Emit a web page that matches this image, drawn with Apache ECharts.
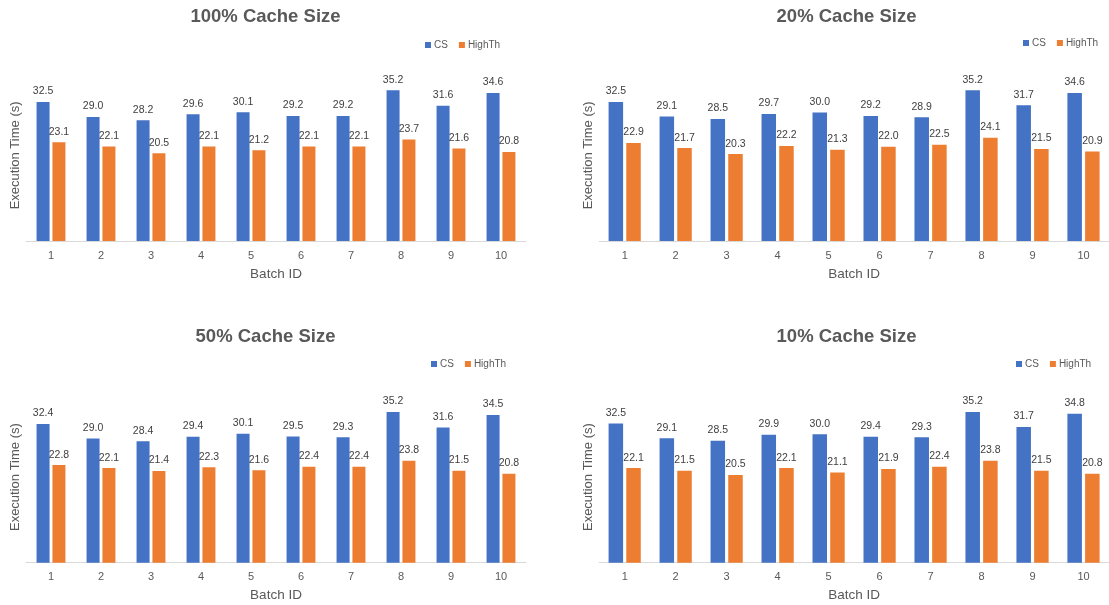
<!DOCTYPE html>
<html>
<head>
<meta charset="utf-8">
<script src="https://cdn.jsdelivr.net/npm/echarts@6/dist/echarts.min.js"></script>
<style>
html,body{margin:0;padding:0;background:#fff;}
#chart{width:1109px;height:605px;}
</style>
</head>
<body>
<div id="chart"></div>
<script>
// ---- Data ----
const categories = ['1','2','3','4','5','6','7','8','9','10'];
const panelTitles = ['100% Cache Size','20% Cache Size','50% Cache Size','10% Cache Size'];
const seriesNames = ['CS','HighTh'];
const cs100 = [32.5,29.0,28.2,29.6,30.1,29.2,29.2,35.2,31.6,34.6];
const ht100 = [23.1,22.1,20.5,22.1,21.2,22.1,22.1,23.7,21.6,20.8];
const cs20  = [32.5,29.1,28.5,29.7,30.0,29.2,28.9,35.2,31.7,34.6];
const ht20  = [22.9,21.7,20.3,22.2,21.3,22.0,22.5,24.1,21.5,20.9];
const cs50  = [32.4,29.0,28.4,29.4,30.1,29.5,29.3,35.2,31.6,34.5];
const ht50  = [22.8,22.1,21.4,22.3,21.6,22.4,22.4,23.8,21.5,20.8];
const cs10  = [32.5,29.1,28.5,29.9,30.0,29.4,29.3,35.2,31.7,34.8];
const ht10  = [22.1,21.5,20.5,22.1,21.1,21.9,22.4,23.8,21.5,20.8];

// ---- Layout ----
const FONT = '"Liberation Sans", Arial, sans-serif';
const TXT = '#595959';
const panels = [
  {title: panelTitles[0], cs: cs100, ht: ht100, left: 26,    width: 500, top: 69.8,  h: 171.2, titleX: 265.5, titleY: 7,   legX: 425,  legY: 40, bw: 13},
  {title: panelTitles[1], cs: cs20,  ht: ht20,  left: 599.2, width: 516, top: 69.8,  h: 171.2, titleX: 846.5, titleY: 7,   legX: 1023, legY: 38, bw: 14.5},
  {title: panelTitles[2], cs: cs50,  ht: ht50,  left: 26,    width: 500, top: 391.5, h: 171.2, titleX: 265.5, titleY: 327, legX: 431,  legY: 359, bw: 13},
  {title: panelTitles[3], cs: cs10,  ht: ht10,  left: 599.2, width: 516, top: 391.5, h: 171.2, titleX: 846.5, titleY: 327, legX: 1016, legY: 359, bw: 14.5}
];

const option = {
  animation: false,
  backgroundColor: '#fff',
  title: [], legend: [], grid: [], xAxis: [], yAxis: [], series: []
};

panels.forEach((p, i) => {
  option.title.push({
    text: p.title, left: p.titleX, top: p.titleY, textAlign: 'center', padding: 0,
    textStyle: {fontFamily: FONT, fontSize: 18.5, fontWeight: 'bold', color: TXT}
  });
  option.legend.push({
    data: seriesNames, left: p.legX, top: p.legY, padding: 0,
    icon: 'rect', itemWidth: 6, itemHeight: 6, itemGap: 11,
    textStyle: {fontFamily: FONT, fontSize: 10, color: TXT, padding: [0,0,0,-2]},
    selectedMode: false
  });
  option.grid.push({left: p.left, top: p.top, width: p.width, height: p.h, containLabel: false});
  option.xAxis.push({
    type: 'category', gridIndex: i, data: categories,
    name: 'Batch ID', nameLocation: 'middle', nameGap: 26,
    nameTextStyle: {fontFamily: FONT, fontSize: 13.5, color: TXT},
    axisLine: {lineStyle: {color: '#d9d9d9', width: 1}},
    axisTick: {show: false},
    axisLabel: {fontFamily: FONT, fontSize: 11, color: TXT, margin: 9}
  });
  option.yAxis.push({
    type: 'value', gridIndex: i, min: 0, max: 40,
    name: 'Execution Time (s)', nameLocation: 'middle', nameGap: 4,
    nameTextStyle: {fontFamily: FONT, fontSize: 13, color: TXT},
    axisLine: {show: false}, axisTick: {show: false}, axisLabel: {show: false},
    splitLine: {show: false}
  });
  const lab = {
    show: true, position: 'top', distance: 5,
    fontFamily: FONT, fontSize: 10.5, color: '#404040',
    formatter: (d) => d.value.toFixed(1)
  };
  option.series.push({
    name: seriesNames[0], type: 'bar', xAxisIndex: i, yAxisIndex: i, data: p.cs,
    barWidth: p.bw, barGap: '22%', itemStyle: {color: '#4472C4'}, label: lab
  });
  option.series.push({
    name: seriesNames[1], type: 'bar', xAxisIndex: i, yAxisIndex: i, data: p.ht,
    barWidth: p.bw, barGap: '22%', itemStyle: {color: '#ED7D31'}, label: lab
  });
});

const chart = echarts.init(document.getElementById('chart'), null, {renderer: 'canvas'});
chart.setOption(option);
</script>
</body>
</html>
